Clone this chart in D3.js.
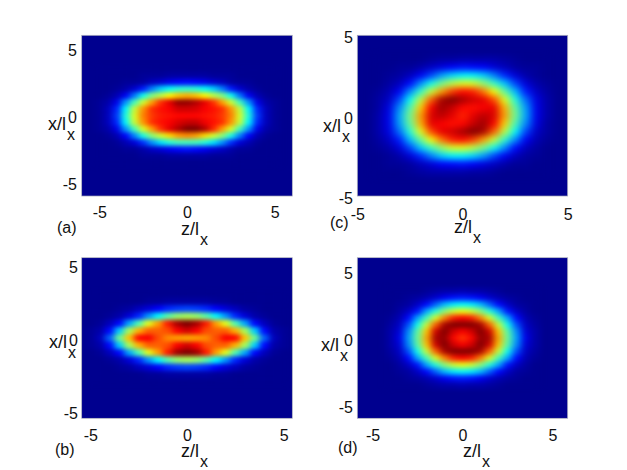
<!DOCTYPE html>
<html>
<head>
<meta charset="utf-8">
<script src="https://cdn.jsdelivr.net/npm/d3@7"></script>
<style>
    html, body { margin: 0; padding: 0; background: white; }
    svg { display: block; }
    text { font-family: "Liberation Sans", Arial, sans-serif; fill: #111; }
</style>
</head>
<body>
<svg id="chart" width="627" height="470"></svg>
<script>
// grid positions the density was read at, in units of l_x
const zWide = [-5, -4.5, -4, -3.5, -3, -2.5, -2, -1.5, -1, -0.5, 0, 0.5, 1, 1.5, 2, 2.5, 3, 3.5, 4, 4.5, 5];
const zNarrow = [-4, -3.5, -3, -2.5, -2, -1.5, -1, -0.5, 0, 0.5, 1, 1.5, 2, 2.5, 3, 3.5, 4];
const xTall = [3.5, 3, 2.5, 2, 1.5, 1, 0.5, 0, -0.5, -1, -1.5, -2, -2.5, -3, -3.5];
const xShort = [3, 2.5, 2, 1.5, 1, 0.5, 0, -0.5, -1, -1.5, -2, -2.5, -3];

const ticks = [-5, 0, 5];

// density, 0 (dark blue) to 1 (dark red)
const densityA = [
    [0, 0, 0, 0, 0, 0, 0, 0, 0, 0, 0, 0, 0, 0, 0, 0, 0, 0, 0, 0, 0],
    [0, 0, 0, 0, 0, .01, .01, .01, .02, .02, .02, .02, .02, .01, .01, .01, 0, 0, 0, 0, 0],
    [0, 0, 0, .01, .01, .02, .05, .07, .10, .12, .13, .12, .10, .07, .05, .02, .01, .01, 0, 0, 0],
    [0, 0, .01, .03, .07, .15, .25, .33, .38, .41, .42, .41, .38, .33, .25, .15, .07, .03, .01, 0, 0],
    [0, .01, .04, .11, .24, .39, .50, .56, .63, .68, .70, .68, .63, .56, .50, .39, .24, .11, .04, .01, 0],
    [.01, .03, .10, .27, .44, .58, .72, .83, .90, .98, .98, .95, .90, .83, .72, .58, .44, .27, .10, .03, .01],
    [.01, .05, .16, .37, .57, .73, .83, .86, .88, .92, .92, .91, .88, .86, .83, .73, .57, .37, .16, .05, .01],
    [.01, .05, .18, .40, .59, .75, .82, .85, .86, .87, .87, .87, .86, .85, .82, .75, .59, .40, .18, .05, .01],
    [.01, .05, .16, .37, .57, .73, .83, .86, .88, .91, .93, .93, .89, .86, .83, .73, .57, .37, .16, .05, .01],
    [.01, .03, .10, .27, .44, .59, .72, .83, .90, .95, 1, 1, .95, .84, .72, .59, .44, .27, .10, .03, .01],
    [0, .01, .04, .12, .25, .40, .51, .58, .66, .72, .74, .72, .66, .58, .51, .40, .25, .12, .04, .01, 0],
    [0, 0, .01, .04, .08, .17, .27, .35, .41, .44, .44, .44, .41, .35, .27, .17, .08, .04, .01, 0, 0],
    [0, 0, 0, .01, .01, .03, .06, .08, .11, .13, .14, .13, .11, .08, .06, .03, .01, .01, 0, 0, 0],
    [0, 0, 0, 0, 0, .01, .01, .01, .02, .02, .02, .02, .02, .01, .01, .01, 0, 0, 0, 0, 0],
    [0, 0, 0, 0, 0, 0, 0, 0, 0, 0, 0, 0, 0, 0, 0, 0, 0, 0, 0, 0, 0]
];
const densityB = [
    [0, 0, 0, 0, 0, 0, 0, 0, 0, 0, 0, 0, 0, 0, 0, 0, 0, 0, 0, 0, 0],
    [0, 0, 0, 0, 0, 0, .01, .01, .02, .02, .02, .02, .02, .01, .01, 0, 0, 0, 0, 0, 0],
    [0, 0, 0, .01, .02, .05, .08, .12, .16, .18, .19, .18, .16, .12, .08, .05, .02, .01, 0, 0, 0],
    [0, 0, .01, .03, .08, .16, .27, .37, .46, .52, .54, .52, .46, .37, .27, .16, .08, .03, .01, 0, 0],
    [0, .01, .05, .13, .29, .45, .60, .72, .85, .96, 1, .96, .85, .72, .60, .45, .29, .13, .05, .01, 0],
    [.01, .03, .13, .33, .54, .70, .78, .78, .80, .88, .92, .88, .80, .78, .78, .70, .54, .33, .13, .03, .01],
    [.01, .05, .22, .48, .68, .87, .88, .80, .74, .72, .71, .72, .74, .80, .88, .87, .68, .48, .22, .05, .01],
    [.01, .03, .13, .33, .54, .70, .78, .78, .80, .88, .92, .88, .80, .78, .78, .70, .54, .33, .13, .03, .01],
    [0, .01, .05, .13, .29, .45, .60, .72, .85, .97, 1, .97, .85, .72, .60, .45, .29, .13, .05, .01, 0],
    [0, 0, .01, .03, .08, .16, .27, .37, .46, .52, .54, .52, .46, .37, .27, .16, .08, .03, .01, 0, 0],
    [0, 0, 0, .01, .02, .05, .08, .12, .16, .18, .19, .18, .16, .12, .08, .05, .02, .01, 0, 0, 0],
    [0, 0, 0, 0, 0, 0, .01, .01, .02, .02, .02, .02, .02, .01, .01, 0, 0, 0, 0, 0, 0],
    [0, 0, 0, 0, 0, 0, 0, 0, 0, 0, 0, 0, 0, 0, 0, 0, 0, 0, 0, 0, 0]
];
const densityC = [
    [0, 0, 0, 0, 0, .01, .02, .02, .03, .03, .03, .03, .02, .01, 0, 0, 0],
    [0, 0, .01, .01, .03, .06, .09, .12, .14, .13, .12, .08, .05, .02, .01, .01, 0],
    [0, .01, .02, .05, .11, .19, .28, .34, .37, .37, .33, .25, .16, .08, .03, .01, 0],
    [0, .02, .05, .13, .26, .39, .49, .56, .60, .59, .52, .43, .32, .19, .08, .03, .01],
    [.01, .04, .11, .26, .42, .57, .72, .82, .87, .85, .76, .62, .47, .31, .15, .06, .02],
    [.02, .06, .19, .38, .56, .78, .96, 1, .96, .92, .90, .80, .60, .41, .23, .09, .03],
    [.02, .09, .26, .45, .67, .88, .97, .93, .87, .86, .88, .90, .70, .47, .28, .10, .03],
    [.03, .10, .29, .49, .72, .91, .94, .90, .84, .90, .94, .91, .72, .49, .29, .10, .03],
    [.03, .10, .28, .47, .70, .90, .88, .86, .87, .93, .97, .88, .67, .45, .26, .09, .02],
    [.03, .09, .23, .41, .60, .80, .90, .92, .96, 1, .96, .78, .56, .38, .19, .06, .02],
    [.02, .06, .15, .31, .47, .62, .76, .85, .87, .82, .72, .57, .42, .26, .11, .04, .01],
    [.01, .03, .08, .19, .32, .43, .52, .59, .60, .56, .49, .39, .26, .13, .05, .02, 0],
    [0, .01, .03, .08, .16, .25, .33, .37, .37, .34, .28, .19, .11, .05, .02, .01, 0],
    [0, .01, .01, .02, .05, .08, .12, .13, .14, .12, .09, .06, .03, .01, .01, 0, 0],
    [0, 0, 0, .01, .02, .03, .03, .03, .03, .02, .02, .01, 0, 0, 0, 0, 0]
];
const densityD = [
    [0, 0, 0, 0, .01, .02, .03, .03, .04, .03, .03, .02, .01, 0, 0, 0, 0],
    [0, 0, .01, .02, .04, .07, .11, .14, .15, .14, .11, .07, .04, .02, .01, 0, 0],
    [0, .01, .02, .06, .13, .22, .31, .36, .38, .36, .31, .22, .13, .06, .02, .01, 0],
    [0, .02, .06, .14, .29, .41, .51, .58, .61, .58, .51, .41, .29, .14, .06, .02, 0],
    [.01, .04, .13, .29, .44, .59, .75, .85, .88, .85, .75, .59, .44, .29, .13, .04, .01],
    [.02, .06, .20, .39, .57, .78, .96, 1, 1, 1, .96, .78, .57, .39, .20, .06, .02],
    [.03, .08, .26, .46, .68, .92, 1, .92, .88, .92, 1, .92, .68, .46, .26, .08, .03],
    [.03, .10, .28, .48, .71, .96, .98, .87, .82, .87, .98, .96, .71, .48, .28, .10, .03],
    [.03, .08, .26, .46, .68, .92, 1, .92, .88, .92, 1, .92, .68, .46, .26, .08, .03],
    [.02, .06, .20, .39, .57, .78, .96, 1, 1, 1, .96, .78, .57, .39, .20, .06, .02],
    [.01, .04, .13, .29, .44, .59, .75, .85, .88, .85, .75, .59, .44, .29, .13, .04, .01],
    [0, .02, .06, .14, .29, .41, .51, .58, .61, .58, .51, .41, .29, .14, .06, .02, 0],
    [0, .01, .02, .06, .13, .22, .31, .36, .38, .36, .31, .22, .13, .06, .02, .01, 0],
    [0, 0, .01, .02, .04, .07, .11, .14, .15, .14, .11, .07, .04, .02, .01, 0, 0],
    [0, 0, 0, 0, .01, .02, .03, .03, .04, .03, .03, .02, .01, 0, 0, 0, 0]
];

// matlab jet
const jet = d3.scaleLinear()
    .domain([0, .125, .375, .625, .875, 1])
    .range(['rgb(0,0,143)', 'rgb(0,0,255)', 'rgb(0,255,255)', 'rgb(255,255,0)', 'rgb(255,0,0)', 'rgb(128,0,0)'])
    .clamp(true);

const FONT = 16;
const panels = [
    { name: 'a', density: densityA, zs: zWide, xs: xTall, zLim: 6, xLim: 6, box: [81.7, 35.3, 292.3, 196],
      tickX: 77, tickY: 219, tickDy: 2, blur: '3 2.3',
      tag: [57, 233], zLabel: [181, 235], xLabel: [48, 130] },
    { name: 'b', density: densityB, zs: zWide, xs: xShort, zLim: 5.45, xLim: 5.5, box: [81.7, 257.7, 292.3, 418.3],
      tickX: 78, tickY: 442, tickDy: 2, blur: '3 2.3',
      tag: [55, 455], zLabel: [181, 456.5], xLabel: [49, 347.5] },
    { name: 'c', density: densityC, zs: zNarrow, xs: xTall, zLim: 5, xLim: 5, box: [357.3, 35.3, 567.7, 196],
      tickX: 353, tickY: 220.5, tickDy: 2.5, blur: '4.2 3.2',
      tag: [330, 228], zLabel: [454, 233], xLabel: [323, 131.5] },
    { name: 'd', density: densityD, zs: zNarrow, xs: xTall, zLim: 5.85, xLim: 6, box: [357.3, 257.7, 567.7, 418.3],
      tickX: 353, tickY: 442, tickDy: 2, blur: '3.6 2.8',
      tag: [338, 453], zLabel: [463, 456.5], xLabel: [321, 351] }
];

const svg = d3.select('#chart');
const defs = svg.append('defs');

function addSubscripted(text, x, y) {
    const label = svg.append('text').attr('x', x).attr('y', y).attr('font-size', FONT + 2);
    label.append('tspan').text(text);
    label.append('tspan').attr('dx', 1).attr('dy', 10).attr('font-size', FONT).text('x');
}

function drawPanel(panel) {
    const [left, top, right, bottom] = panel.box;
    const zScale = d3.scaleLinear().domain([-panel.zLim, panel.zLim]).range([left, right]);
    const xScale = d3.scaleLinear().domain([-panel.xLim, panel.xLim]).range([bottom, top]);
    const step = 0.5;

    defs.append('clipPath').attr('id', 'clip-' + panel.name)
        .append('rect')
        .attr('x', left).attr('y', top)
        .attr('width', right - left).attr('height', bottom - top);

    defs.append('filter')
        .attr('id', 'soften-' + panel.name)
        .attr('color-interpolation-filters', 'sRGB')
        .append('feGaussianBlur')
        .attr('stdDeviation', panel.blur);

    const plot = svg.append('g').attr('clip-path', `url(#clip-${panel.name})`);
    plot.append('rect')
        .attr('x', left).attr('y', top)
        .attr('width', right - left).attr('height', bottom - top)
        .attr('fill', jet(0));

    const cells = panel.density.flatMap((row, i) =>
        row.map((value, j) => ({ z: panel.zs[j], x: panel.xs[i], value })));

    plot.append('g')
        .attr('filter', `url(#soften-${panel.name})`)
        .selectAll('rect')
        .data(cells)
        .join('rect')
        .attr('x', d => zScale(d.z - step / 2))
        .attr('y', d => xScale(d.x + step / 2))
        .attr('width', zScale(step) - zScale(0) + 0.5)
        .attr('height', xScale(0) - xScale(step) + 0.5)
        .attr('fill', d => jet(d.value));

    // thin frame, only really visible against the white page
    svg.append('rect')
        .attr('x', left).attr('y', top)
        .attr('width', right - left).attr('height', bottom - top)
        .attr('fill', 'none')
        .attr('stroke', '#9a9db5')
        .attr('stroke-width', 0.7);

    const zAxis = d3.axisBottom(zScale).tickValues(ticks).tickSize(0).tickFormat(d => d < 0 ? '-5' : d);
    const bottomAxis = svg.append('g')
        .attr('transform', `translate(0,${panel.tickY - 15})`)
        .call(zAxis);
    bottomAxis.select('.domain').remove();
    bottomAxis.selectAll('text').attr('font-size', FONT).attr('font-family', null);

    const xAxis = d3.axisLeft(xScale).tickValues(ticks).tickSize(0).tickFormat(d => d < 0 ? '-5' : d);
    const leftAxis = svg.append('g')
        .attr('transform', `translate(${panel.tickX + 3},${panel.tickDy})`)
        .call(xAxis);
    leftAxis.select('.domain').remove();
    leftAxis.selectAll('text').attr('font-size', FONT).attr('font-family', null);

    svg.append('text')
        .attr('x', panel.tag[0]).attr('y', panel.tag[1])
        .attr('font-size', FONT)
        .text(`(${panel.name})`);
    addSubscripted('z/l', panel.zLabel[0], panel.zLabel[1]);
    addSubscripted('x/l', panel.xLabel[0], panel.xLabel[1]);
}

panels.forEach(drawPanel);
</script>
</body>
</html>
